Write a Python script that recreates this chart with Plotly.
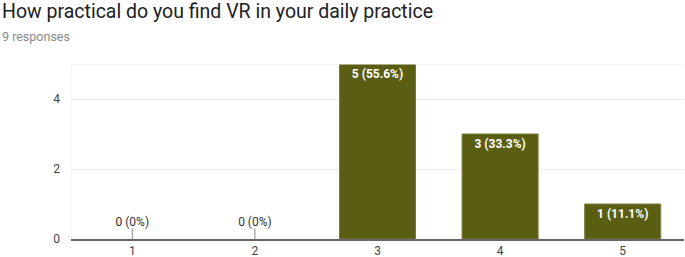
import plotly.graph_objects as go

categories = ["1", "2", "3", "4", "5"]
counts = [0, 0, 5, 3, 1]
labels = ["0 (0%)", "0 (0%)", "5 (55.6%)", "3 (33.3%)", "1 (11.1%)"]
title_text = "How practical do you find VR in your daily practice"
subtitle_text = "9 responses"

bar_color = "#5a5e13"
ZERO_TICK = 0.3

fig = go.Figure()
fig.add_trace(go.Bar(
    x=categories, y=counts,
    marker=dict(color=bar_color,
                line=dict(color="#7a7d3a", width=[0 if c == 0 else 1 for c in counts])),
    width=0.62,
    text=["<b>" + l + "</b>" if c > 0 else "" for l, c in zip(labels, counts)],
    textposition="inside", insidetextanchor="end",
    textfont=dict(family="Roboto, Arial", size=12, color="white"),
    textangle=0,
    cliponaxis=False, hoverinfo="skip",
))
zx = [c for c, v in zip(categories, counts) if v == 0]
zl = [l for l, v in zip(labels, counts) if v == 0]
fig.add_trace(go.Scatter(
    x=zx, y=[ZERO_TICK] * len(zx), mode="markers",
    marker=dict(size=1, color="rgba(0,0,0,0)"),
    error_y=dict(type="data", symmetric=False, array=[0] * len(zx),
                 arrayminus=[ZERO_TICK] * len(zx), width=0, color="#888", thickness=1),
    cliponaxis=False, hoverinfo="skip",
))
fig.add_trace(go.Scatter(
    x=zx, y=[ZERO_TICK] * len(zx), mode="text",
    text=zl, textposition="top center",
    textfont=dict(family="Roboto, Arial", size=12, color="#333"),
    cliponaxis=False, hoverinfo="skip",
))

fig.update_layout(
    width=685, height=257,
    margin=dict(l=71, r=1, t=64, b=18),
    paper_bgcolor="white", plot_bgcolor="white",
    showlegend=False,
    font=dict(family="Roboto, Arial", color="#444"),
    annotations=[
        dict(text=title_text, xref="paper", yref="paper", x=0, y=1,
             xanchor="left", yanchor="bottom", xshift=-71, yshift=39,
             showarrow=False, font=dict(family="Roboto, Arial", size=19.5, color="#202124")),
        dict(text=subtitle_text, xref="paper", yref="paper", x=0, y=1,
             xanchor="left", yanchor="bottom", xshift=-71, yshift=18,
             showarrow=False, font=dict(family="Roboto, Arial", size=12.5, color="#888")),
    ],
)
fig.update_xaxes(type="category", showgrid=False, showline=True, linecolor="#666",
                 linewidth=2, ticks="", tickfont=dict(size=12, color="#444"),
                 ticklabelstandoff=0, automargin=False, range=[-0.5, 4.5], fixedrange=True)
fig.update_yaxes(range=[0, 5], tickvals=[0, 2, 4], showgrid=True, gridcolor="#ebebeb",
                 zeroline=False, showline=False, tickfont=dict(size=12, color="#444"),
                 ticklabelstandoff=10, automargin=False, fixedrange=True)
fig.add_hline(y=5, line=dict(color="#ebebeb", width=1))
fig.add_vline(x=-0.5, line=dict(color="#ebebeb", width=1))

fig.write_html("out.html", config={"displayModeBar": False},
               post_script="document.body.style.margin='0';document.body.style.overflow='hidden';")
